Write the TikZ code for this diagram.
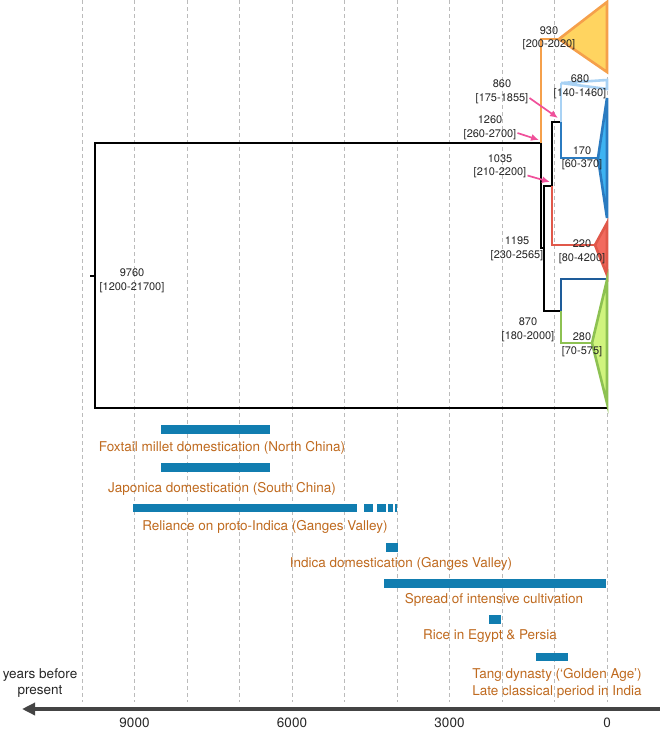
\documentclass[tikz,border=0pt]{standalone}
\usepackage{fontspec}
\setmainfont{TeX Gyre Heros}
\usetikzlibrary{arrows.meta}

\definecolor{gridgray}{HTML}{BBBBBB}
\definecolor{axisgray}{HTML}{444444}
\definecolor{barblue}{HTML}{117DB0}
\definecolor{eventbrown}{HTML}{BF6A1F}
\definecolor{orangeline}{HTML}{F5A04B}
\definecolor{orangefill}{HTML}{FFD460}
\definecolor{paleblue}{HTML}{A9D2F4}
\definecolor{midblue}{HTML}{2B7BC0}
\definecolor{skyfill}{HTML}{3DB3F2}
\definecolor{redline}{HTML}{E0584A}
\definecolor{redfill}{HTML}{F26A5E}
\definecolor{navyline}{HTML}{1E5C9A}
\definecolor{greenline}{HTML}{8DC152}
\definecolor{greenfill}{HTML}{D0F47E}
\definecolor{pinkarrow}{HTML}{F0509A}

\begin{document}
\begin{tikzpicture}[x=1pt, y=-1pt,
  every node/.style={inner sep=0pt, align=center},
  agelabel/.style={font=\fontsize{11}{13.5}\selectfont, text=black!85},
  event/.style={font=\fontsize{13.5}{17}\selectfont, text=eventbrown},
  branch/.style={line width=2.8pt, line join=miter},
  clade/.style={line width=2.6pt, line join=miter},
  pointer/.style={pinkarrow, line width=1.7pt, -{Latex[length=8pt,width=7pt]}},
  bar/.style={fill=barblue},
  grid/.style={gridgray, line width=0.9pt, dash pattern=on 4pt off 3pt}]
  \useasboundingbox (0,0) rectangle (660,732);

  % time grid, 1000 years per line
  \foreach \t in {0,...,10}
    \draw[grid] ({607-52.5*\t},0) -- ({607-52.5*\t},702);

  % tree
  \coordinate (stub) at (90,276);
  \coordinate (root) at (95,276);
  \coordinate (n1260) at (541,143);
  \coordinate (n1195) at (544,248);
  \coordinate (n1035) at (552,186);
  \coordinate (n860) at (561,122);
  \coordinate (n870) at (561,311);

  \draw[branch] (stub) -- (root);
  \draw[branch] (n1260) -- (95,143) -- (95,408) -- (607,408);
  \draw[branch, orangeline] (559,39) -- (541,39) -- (n1260);
  \draw[branch] (n1260) -- (541,248) -- (n1195);
  \draw[branch] (n1035) -- (544,186) -- (544,311) -- (n870);
  \draw[branch] (n1035) -- (552,122) -- (n860);
  \draw[branch, redline] (n1035) -- (552,245) -- (595,245);
  \draw[branch, paleblue] (n860) -- (561,83);
  \draw[branch, midblue] (n860) -- (561,158) -- (598,158);
  \draw[branch, navyline] (n870) -- (561,279) -- (607,279);
  \draw[branch, greenline] (n870) -- (561,343) -- (592,343);

  \filldraw[clade, draw=orangeline, fill=orangefill] (559,39) -- (607,2) -- (607,72) -- cycle;
  \filldraw[clade, draw=paleblue, fill=white] (561,83) -- (607,80) -- (607,89) -- cycle;
  \filldraw[clade, draw=midblue, fill=skyfill] (598,158) -- (607,98) -- (607,218) -- cycle;
  \filldraw[clade, draw=redline, fill=redfill] (595,245) -- (607,223) -- (607,275) -- cycle;
  \filldraw[clade, draw=greenline, fill=greenfill] (592,343) -- (607,280) -- (607,403) -- cycle;

  % node ages
  \node[agelabel] (l9760) at (132,281) {9760\\{[}1200-21700{]}};
  \node[agelabel] (l930) at (549,38.5) {930\\{[}200-2020{]}};
  \node[agelabel] (l680) at (580,87) {680\\{[}140-1460{]}};
  \node[agelabel] (l170) at (582,158.5) {170\\{[}60-370{]}};
  \node[agelabel] (l220) at (582,252) {220\\{[}80-4200{]}};
  \node[agelabel] (l280) at (582,345) {280\\{[}70-575{]}};
  \node[agelabel] (l860) at (502,92) {860\\{[}175-1855{]}};
  \node[agelabel] (l1260) at (490,128) {1260\\{[}260-2700{]}};
  \node[agelabel] (l1035) at (500,166.5) {1035\\{[}210-2200{]}};
  \node[agelabel] (l1195) at (517,249) {1195\\{[}230-2565{]}};
  \node[agelabel] (l870) at (528,330) {870\\{[}180-2000{]}};

  \draw[pointer] ([xshift=1pt, yshift=-6pt]l860.east) -- ([xshift=-3pt, yshift=4pt]n860);
  \draw[pointer] ([xshift=1pt, yshift=-5pt]l1260.east) -- ([xshift=-2pt, yshift=3pt]n1260);
  \draw[pointer] ([xshift=1pt, yshift=-9pt]l1035.east) -- ([xshift=-2pt, yshift=4pt]n1035);

  % events
  \fill[bar] (161,425) rectangle (270,434);
  \node[event] (lfox) at (222,448) {Foxtail millet domestication (North China)};
  \fill[bar] (161,463) rectangle (270,472);
  \node[event] (ljap) at (222,489) {Japonica domestication (South China)};
  \fill[bar] (133,504) rectangle (357,512);
  \foreach \a/\b in {364/373, 377/386, 388/393, 395/397}
    \fill[bar] (\a,504) rectangle (\b,512);
  \node[event] (lrel) at (265,527) {Reliance on proto-Indica (Ganges Valley)};
  \fill[bar] (386,543) rectangle (398,552);
  \node[event] (lind) at (401,564) {Indica domestication (Ganges Valley)};
  \fill[bar] (384,579) rectangle (606,588);
  \node[event] (lspr) at (494,600) {Spread of intensive cultivation};
  \fill[bar] (489,615) rectangle (501,624);
  \node[event] (lrice) at (490,636) {Rice in Egypt \& Persia};
  \fill[bar] (536,653) rectangle (568,661);
  \node[event] (ltang) at (557,683.5) {Tang dynasty (‘Golden Age’)\\Late classical period in India};

  % time axis
  \coordinate (axisright) at (660,709);
  \coordinate (axisleft) at (22,709);
  \draw[axisgray, line width=4pt, -{Triangle[length=13pt,width=12pt]}] (axisright) -- (axisleft);
  \node[font=\fontsize{13.5}{16}\selectfont, text=black!85] (ylab) at (40,683) {years before\\present};
  \foreach \t/\lab in {0/0, 3/3000, 6/6000, 9/9000}
    \node[font=\fontsize{13.5}{16}\selectfont, text=black!85] at ({607-52.5*\t},723) {\lab};
\end{tikzpicture}
\end{document}
